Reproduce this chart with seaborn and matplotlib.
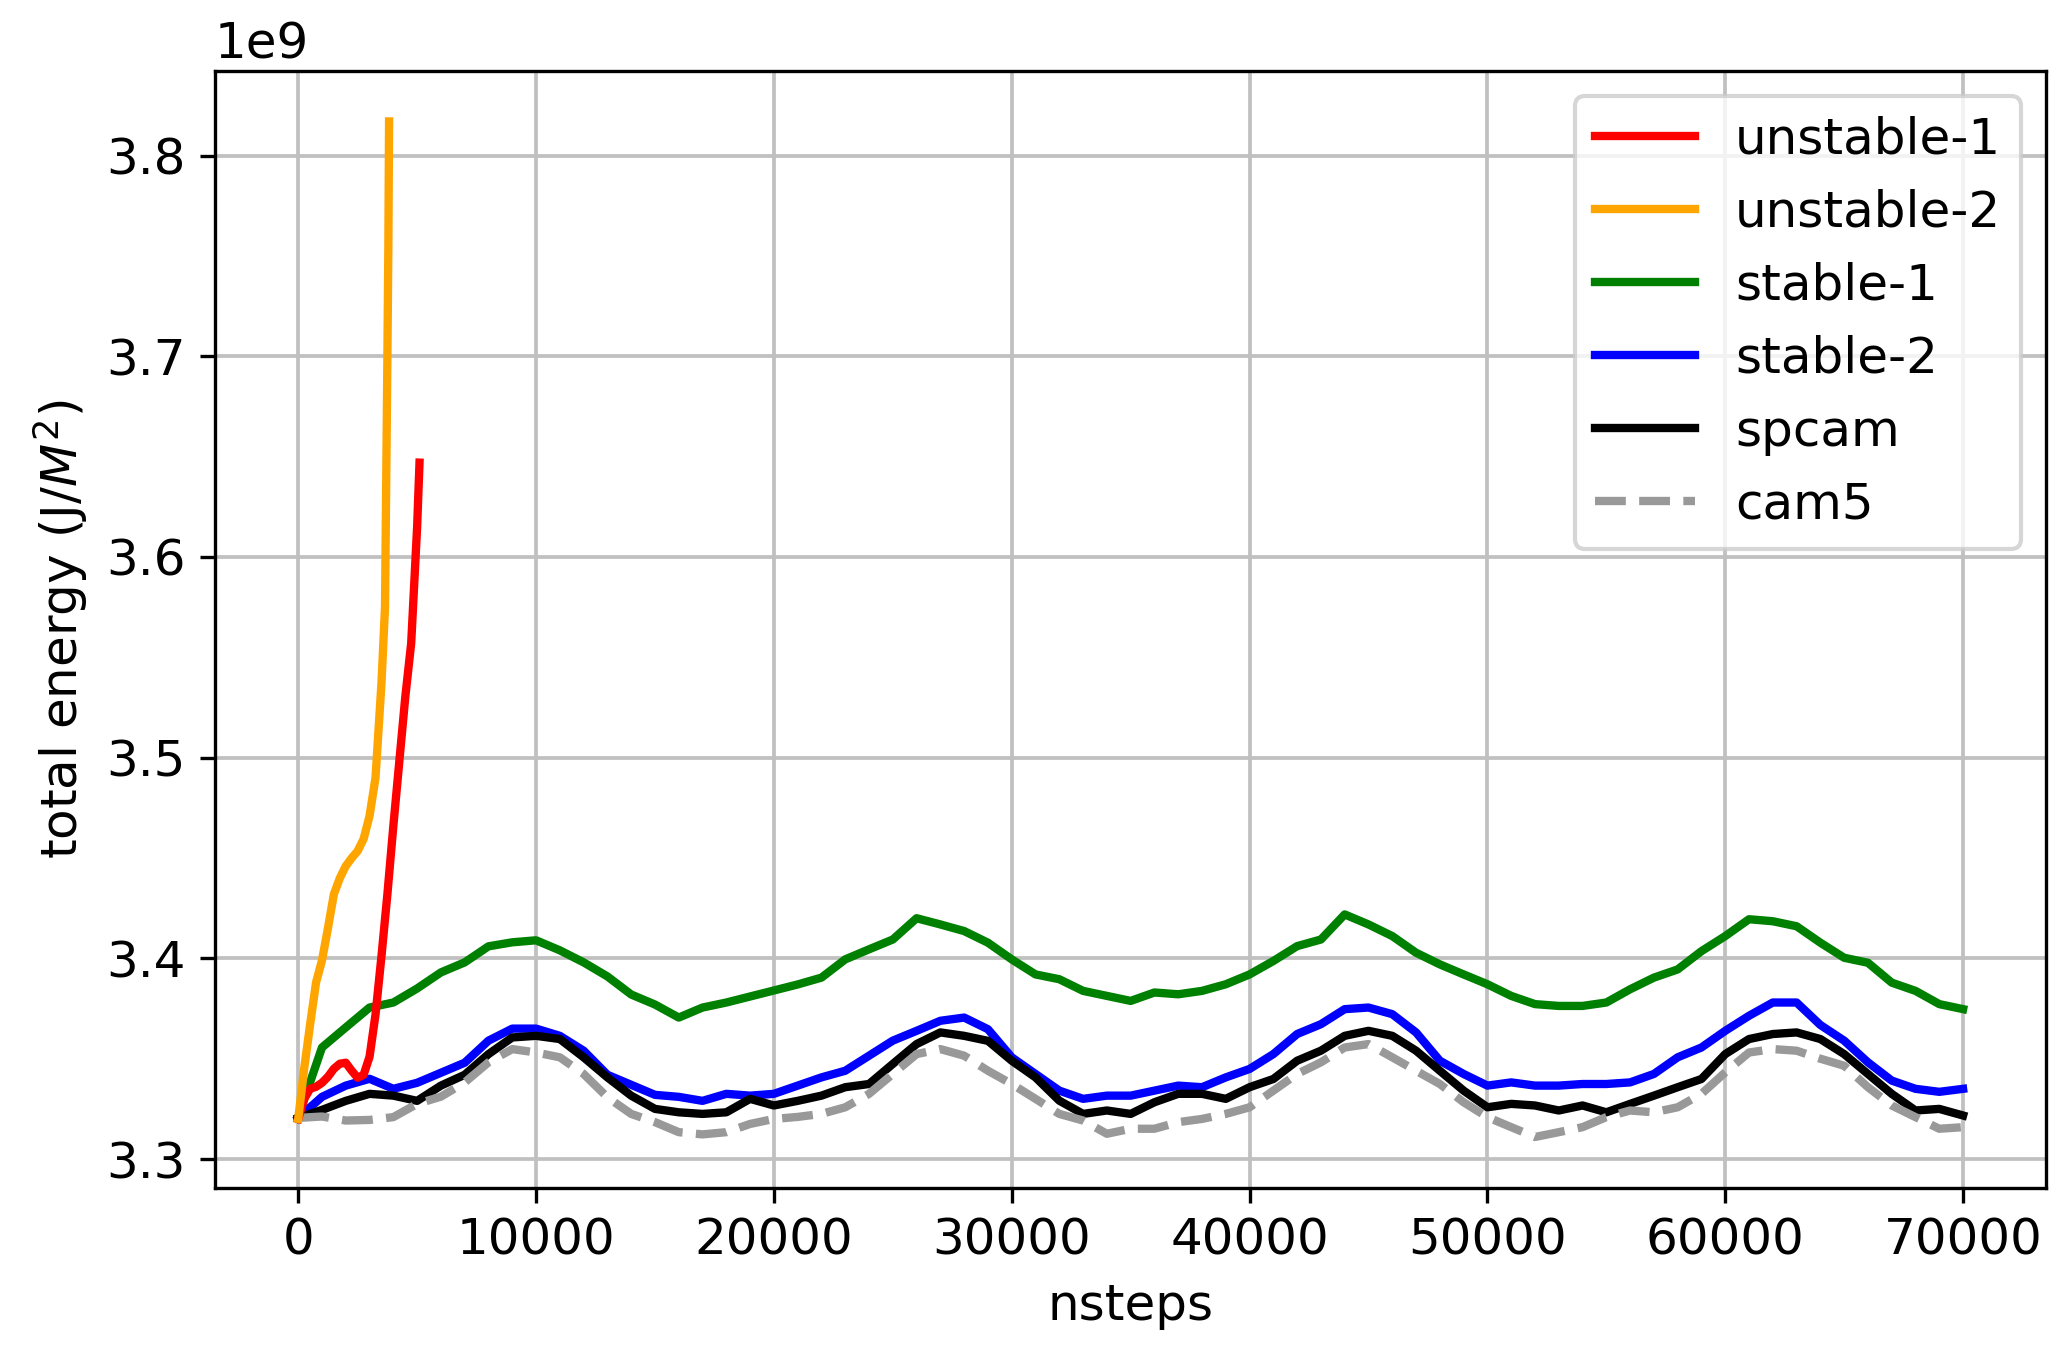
import numpy as np
import pandas as pd
import matplotlib
matplotlib.use("Agg")
import matplotlib.pyplot as plt
import seaborn as sns

plt.rcParams["font.size"] = 12

# model steps for the runs that went the full length (one value every 1000 steps)
steps = np.arange(0, 70001, 1000)

# total energy, in units of 1e9 J/M^2
stable_1 = [3.321, 3.3556, 3.3656, 3.3755, 3.378, 3.385, 3.393, 3.398, 3.406, 3.408,
            3.409, 3.404, 3.398, 3.391, 3.382, 3.377, 3.3705, 3.3755, 3.378, 3.381,
            3.384, 3.387, 3.3904, 3.3995, 3.4045, 3.4094, 3.420, 3.4169, 3.4136, 3.4078,
            3.3995, 3.392, 3.3896, 3.3838, 3.3813, 3.3788, 3.383, 3.3821, 3.3838, 3.3871,
            3.392, 3.3987, 3.4061, 3.4094, 3.4219, 3.4169, 3.4111, 3.4028, 3.397, 3.392,
            3.3871, 3.3813, 3.3772, 3.3763, 3.3763, 3.378, 3.3846, 3.3904, 3.3945, 3.4036,
            3.4111, 3.4195, 3.4185, 3.416, 3.4078, 3.4003, 3.3978, 3.3879, 3.3838, 3.3772,
            3.3747]
stable_2 = [3.3205, 3.331, 3.3366, 3.340, 3.335, 3.338, 3.343, 3.348, 3.359, 3.365,
            3.365, 3.3614, 3.354, 3.342, 3.337, 3.332, 3.331, 3.329, 3.3325, 3.3316,
            3.3325, 3.3366, 3.3407, 3.344, 3.3515, 3.359, 3.3639, 3.3689, 3.3705, 3.3647,
            3.3507, 3.3424, 3.3341, 3.330, 3.3316, 3.3316, 3.3341, 3.3366, 3.3358, 3.3407,
            3.3449, 3.3523, 3.3623, 3.3672, 3.3747, 3.3755, 3.3722, 3.3631, 3.349, 3.3424,
            3.3366, 3.3382, 3.3366, 3.3366, 3.3374, 3.3374, 3.3382, 3.3424, 3.3507, 3.3556,
            3.3639, 3.3714, 3.378, 3.378, 3.3668, 3.359, 3.3482, 3.3391, 3.335, 3.3335,
            3.335]
spcam = [3.3205, 3.3245, 3.329, 3.3325, 3.3316, 3.329, 3.3366, 3.342, 3.3523, 3.3606,
         3.3614, 3.3598, 3.3507, 3.3407, 3.3316, 3.325, 3.3233, 3.3225, 3.3233, 3.330,
         3.3267, 3.329, 3.3316, 3.3358, 3.3374, 3.3474, 3.3573, 3.3631, 3.3614, 3.3589,
         3.349, 3.3407, 3.3291, 3.3225, 3.3242, 3.3225, 3.3283, 3.3325, 3.3325, 3.330,
         3.3358, 3.3399, 3.349, 3.354, 3.3614, 3.3639, 3.3614, 3.354, 3.344, 3.3341,
         3.3258, 3.3275, 3.3267, 3.3242, 3.3267, 3.3233, 3.3275, 3.3316, 3.3358, 3.3399,
         3.3523, 3.3598, 3.3623, 3.3631, 3.3598, 3.3523, 3.3424, 3.3325, 3.3242, 3.325,
         3.3217]
cam5 = [3.3205, 3.3212, 3.3192, 3.3195, 3.3209, 3.3275, 3.3311, 3.3382, 3.3482, 3.3548,
        3.3531, 3.3507, 3.3424, 3.3308, 3.3225, 3.3184, 3.3134, 3.3123, 3.3134, 3.3175,
        3.320, 3.321, 3.3225, 3.3258, 3.3325, 3.3424, 3.3523, 3.3548, 3.3515, 3.344,
        3.3374, 3.330, 3.3225, 3.3192, 3.3126, 3.3151, 3.3151, 3.3184, 3.320, 3.3225,
        3.3258, 3.3341, 3.3424, 3.3482, 3.3556, 3.3573, 3.3507, 3.344, 3.3374, 3.3283,
        3.3209, 3.3159, 3.311, 3.3134, 3.3159, 3.3209, 3.3242, 3.3233, 3.3258, 3.3325,
        3.3432, 3.3531, 3.3548, 3.354, 3.350, 3.3465, 3.3358, 3.3267, 3.3209, 3.3151,
        3.3159]

# the two unstable runs blow up early, so they have their own (short) step lists
unstable_1_steps = [0, 250, 500, 750, 1000, 1250, 1500, 1750, 2000, 2250, 2500, 2750,
                    3000, 3250, 3500, 3750, 4000, 4250, 4500, 4750, 5000, 5100]
unstable_1 = [3.320, 3.330, 3.335, 3.336, 3.338, 3.341, 3.345, 3.3475, 3.348, 3.344,
              3.3405, 3.342, 3.351, 3.372, 3.401, 3.432, 3.466, 3.498, 3.530, 3.557,
              3.615, 3.647]
unstable_2_steps = [0, 250, 500, 750, 1000, 1250, 1500, 1750, 2000, 2250, 2500, 2750,
                    3000, 3250, 3500, 3650, 3750, 3790, 3820]
unstable_2 = [3.320, 3.345, 3.367, 3.388, 3.399, 3.415, 3.432, 3.440, 3.446, 3.450,
              3.4535, 3.4595, 3.471, 3.490, 3.537, 3.575, 3.700, 3.7545, 3.817]

scale = 1e9

fig, ax = plt.subplots(figsize=(2067 / 300, 1359 / 300), dpi=300)

runs = [
    ("unstable-1", unstable_1_steps, unstable_1, "red", "-", 3),
    ("unstable-2", unstable_2_steps, unstable_2, "orange", "-", 3),
    ("stable-1", steps, stable_1, "green", "-", 2),
    ("stable-2", steps, stable_2, "blue", "-", 2),
    ("spcam", steps, spcam, "black", "-", 2),
    ("cam5", steps, cam5, "#999999", "--", 2),
]
for name, x, y, col, ls, z in runs:
    df = pd.DataFrame({"nsteps": x, "energy": np.array(y) * scale})
    sns.lineplot(data=df, x="nsteps", y="energy", color=col, linestyle=ls,
                 linewidth=2, label=name, ax=ax, zorder=z)

ax.grid(True, color="#c0c0c0", linewidth=0.9)
ax.set_axisbelow(True)
ax.set_xticks(range(0, 70001, 10000))
ax.set_yticks([3.3e9, 3.4e9, 3.5e9, 3.6e9, 3.7e9, 3.8e9])
ax.set_xlabel("nsteps")
ax.set_ylabel("total energy (J/$M^2$)")
ax.legend(loc="upper right")

plt.subplots_adjust(left=0.104, right=0.990, top=0.948, bottom=0.126)
plt.savefig("out.png", dpi=300)
